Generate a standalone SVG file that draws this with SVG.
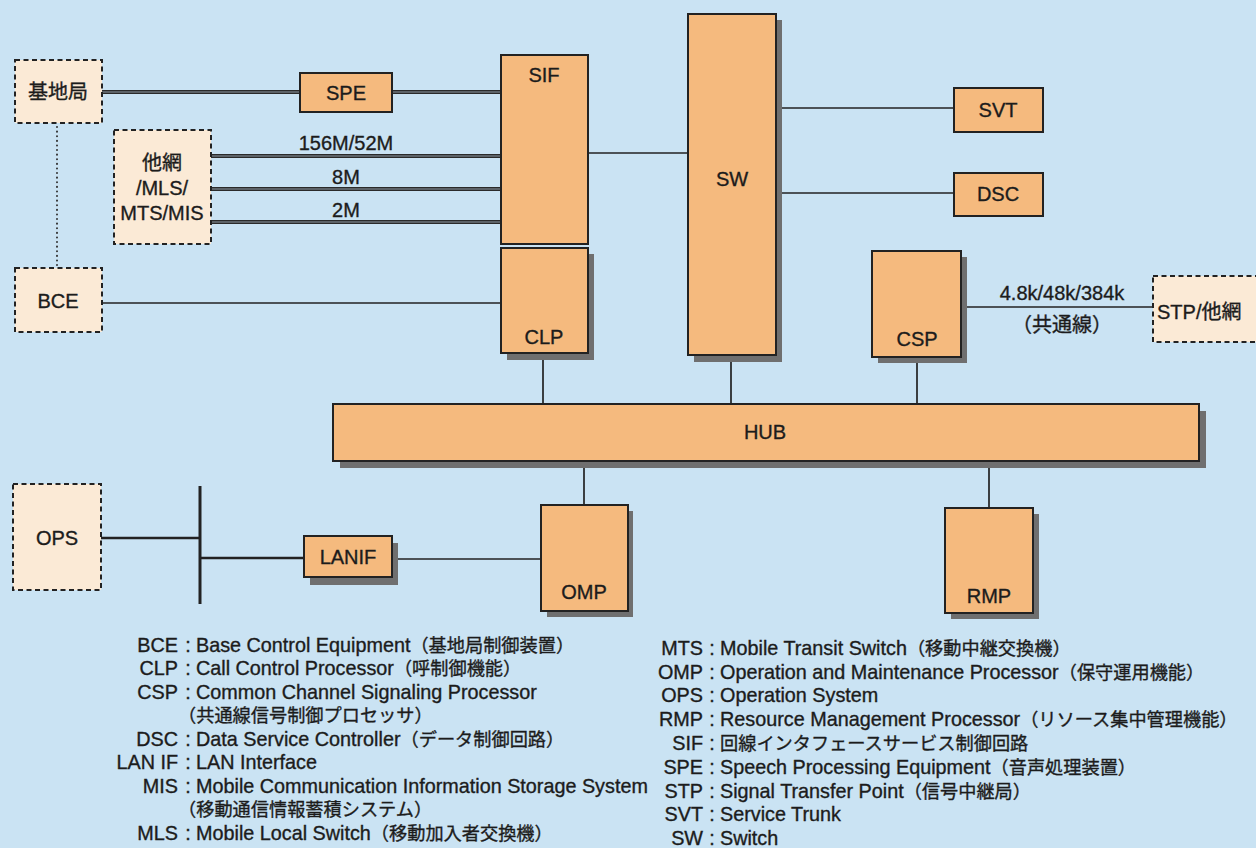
<svg xmlns="http://www.w3.org/2000/svg" width="1256" height="848" viewBox="0 0 1256 848">
<style>
  text { font-family: "Liberation Sans", "Noto Sans CJK JP", sans-serif; fill: #1c1c1c; stroke: #1c1c1c; stroke-width: 0.35px; font-size: 20px; }
  .lg { font-size: 19.8px; }
  .j { font-size: 18.2px; }
  .c { text-anchor: middle; }
  .e { text-anchor: end; }
  .box { fill: #F5BA7E; stroke: #222; stroke-width: 2; }
  .dash { fill: #FBEAD6; stroke: #222; stroke-width: 2; stroke-dasharray: 5 3.5; }
  .sh { fill: #6f6f6f; }
  .ln { stroke: #222; stroke-width: 1.7; fill: none; }
  .thick { stroke: #222; stroke-width: 2.6; fill: none; }
  .dbl { stroke: #2a2a2a; stroke-width: 4.2; fill: none; }
  .dblc { stroke: #8d9aa3; stroke-width: 1.2; fill: none; }
  .dot { stroke: #333; stroke-width: 2; stroke-dasharray: 0.1 4.5; stroke-linecap: round; fill: none; }
</style>
<rect x="0" y="0" width="1256" height="848" fill="#CAE3F3"/>

<g id="connectors">
  <line class="dbl" x1="102" y1="92" x2="300" y2="92"/><line class="dblc" x1="102" y1="92" x2="300" y2="92"/>
  <line class="dbl" x1="392" y1="92" x2="501" y2="92"/><line class="dblc" x1="392" y1="92" x2="501" y2="92"/>
  <line class="dbl" x1="211" y1="156" x2="501" y2="156"/><line class="dblc" x1="211" y1="156" x2="501" y2="156"/>
  <line class="dbl" x1="211" y1="189" x2="501" y2="189"/><line class="dblc" x1="211" y1="189" x2="501" y2="189"/>
  <line class="dbl" x1="211" y1="222" x2="501" y2="222"/><line class="dblc" x1="211" y1="222" x2="501" y2="222"/>
  <line class="dot" x1="57" y1="127" x2="57" y2="266"/>
  <line class="ln" x1="102" y1="303" x2="501" y2="303"/>
  <line class="ln" x1="588" y1="153" x2="688" y2="153"/>
  <line class="ln" x1="776" y1="108" x2="954" y2="108"/>
  <line class="ln" x1="776" y1="193" x2="954" y2="193"/>
  <line class="ln" x1="961" y1="307" x2="1153" y2="307"/>
  <line class="ln" x1="543" y1="360" x2="543" y2="404"/>
  <line class="ln" x1="731" y1="362" x2="731" y2="404"/>
  <line class="ln" x1="917" y1="363" x2="917" y2="404"/>
  <line class="ln" x1="584" y1="461" x2="584" y2="505"/>
  <line class="ln" x1="989" y1="461" x2="989" y2="508"/>
  <line class="thick" x1="101" y1="538" x2="200" y2="538"/>
  <line class="thick" x1="200" y1="486" x2="200" y2="604" style="stroke-width:3"/>
  <line class="thick" x1="200" y1="558" x2="304" y2="558"/>
  <line class="ln" x1="392" y1="559" x2="541" y2="559"/>
  <text class="c" x="346" y="150">156M/52M</text>
  <text class="c" x="346" y="184">8M</text>
  <text class="c" x="346" y="217">2M</text>
  <text class="c" x="1062" y="300">4.8k/48k/384k</text>
  <text class="c" x="1062" y="332">（共通線）</text>
</g>

<g id="kichikyoku">
  <rect class="dash" x="15" y="60" width="87" height="63"/>
  <text class="c" x="58" y="99">基地局</text>
</g>
<g id="SPE">
  <rect class="box" x="300" y="73" width="92" height="39"/>
  <text class="c" x="346" y="100">SPE</text>
</g>
<g id="tamou">
  <rect class="dash" x="114" y="130" width="97" height="114"/>
  <text class="c" x="162" y="170">他網</text>
  <text class="c" x="162" y="195">/MLS/</text>
  <text class="c" x="162" y="220">MTS/MIS</text>
</g>
<g id="BCE">
  <rect class="dash" x="15" y="268" width="87" height="64"/>
  <text class="c" x="58" y="308">BCE</text>
</g>
<g id="SIF">
  <rect class="box" x="501" y="55" width="87" height="189"/>
  <text class="c" x="544" y="82">SIF</text>
</g>
<g id="CLP">
  <rect class="sh" x="507" y="254" width="87" height="106"/>
  <rect class="box" x="501" y="248" width="87" height="105"/>
  <text class="c" x="544" y="344">CLP</text>
</g>
<g id="SW">
  <rect class="sh" x="694" y="20" width="88" height="342"/>
  <rect class="box" x="688" y="14" width="88" height="341"/>
  <text class="c" x="732" y="186">SW</text>
</g>
<g id="SVT">
  <rect class="box" x="954" y="88" width="89" height="44"/>
  <text class="c" x="998" y="117">SVT</text>
</g>
<g id="DSC">
  <rect class="box" x="954" y="173" width="89" height="43"/>
  <text class="c" x="998" y="201">DSC</text>
</g>
<g id="CSP">
  <rect class="sh" x="878" y="257" width="89" height="106"/>
  <rect class="box" x="872" y="251" width="89" height="106"/>
  <text class="c" x="917" y="346">CSP</text>
</g>
<g id="STP">
  <rect class="dash" x="1153" y="276" width="120" height="66"/>
  <text x="1157" y="319">STP/他網</text>
</g>
<g id="HUB">
  <rect class="sh" x="340" y="411" width="866" height="57"/>
  <rect class="box" x="333" y="404" width="866" height="57"/>
  <text class="c" x="765" y="439">HUB</text>
</g>
<g id="OMP">
  <rect class="sh" x="547" y="511" width="86" height="106"/>
  <rect class="box" x="541" y="505" width="87" height="106"/>
  <text class="c" x="584" y="599">OMP</text>
</g>
<g id="RMP">
  <rect class="sh" x="951" y="514" width="88" height="105"/>
  <rect class="box" x="945" y="508" width="88" height="105"/>
  <text class="c" x="989" y="603">RMP</text>
</g>
<g id="LANIF">
  <rect class="sh" x="310" y="543" width="88" height="42"/>
  <rect class="box" x="304" y="536" width="88" height="41"/>
  <text class="c" x="348" y="564">LANIF</text>
</g>
<g id="OPS">
  <rect class="dash" x="13" y="484" width="88" height="106"/>
  <text class="c" x="57" y="545">OPS</text>
</g>

<g id="legend-left">
  <text class="lg e" x="178" y="652">BCE</text><text class="lg c" x="188" y="652">:</text><text class="lg" x="196" y="652">Base Control Equipment<tspan class="j">（基地局制御装置）</tspan></text>
  <text class="lg e" x="178" y="675">CLP</text><text class="lg c" x="188" y="675">:</text><text class="lg" x="196" y="675">Call Control Processor<tspan class="j">（呼制御機能）</tspan></text>
  <text class="lg e" x="178" y="699">CSP</text><text class="lg c" x="188" y="699">:</text><text class="lg" x="196" y="699">Common Channel Signaling Processor</text>
  <text class="j" x="178" y="722">（共通線信号制御プロセッサ）</text>
  <text class="lg e" x="178" y="746">DSC</text><text class="lg c" x="188" y="746">:</text><text class="lg" x="196" y="746">Data Service Controller<tspan class="j">（データ制御回路）</tspan></text>
  <text class="lg e" x="178" y="769">LAN IF</text><text class="lg c" x="188" y="769">:</text><text class="lg" x="196" y="769">LAN Interface</text>
  <text class="lg e" x="178" y="793">MIS</text><text class="lg c" x="188" y="793">:</text><text class="lg" x="196" y="793">Mobile Communication Information Storage System</text>
  <text class="j" x="178" y="816">（移動通信情報蓄積システム）</text>
  <text class="lg e" x="178" y="840">MLS</text><text class="lg c" x="188" y="840">:</text><text class="lg" x="196" y="840">Mobile Local Switch<tspan class="j">（移動加入者交換機）</tspan></text>
</g>
<g id="legend-right">
  <text class="lg e" x="703" y="655">MTS</text><text class="lg c" x="712" y="655">:</text><text class="lg" x="720" y="655">Mobile Transit Switch<tspan class="j">（移動中継交換機）</tspan></text>
  <text class="lg e" x="703" y="679">OMP</text><text class="lg c" x="712" y="679">:</text><text class="lg" x="720" y="679">Operation and Maintenance Processor<tspan class="j">（保守運用機能）</tspan></text>
  <text class="lg e" x="703" y="702">OPS</text><text class="lg c" x="712" y="702">:</text><text class="lg" x="720" y="702">Operation System</text>
  <text class="lg e" x="703" y="726">RMP</text><text class="lg c" x="712" y="726">:</text><text class="lg" x="720" y="726">Resource Management Processor<tspan class="j">（リソース集中管理機能）</tspan></text>
  <text class="lg e" x="703" y="750">SIF</text><text class="lg c" x="712" y="750">:</text><text class="j" x="720" y="750">回線インタフェースサービス制御回路</text>
  <text class="lg e" x="703" y="774">SPE</text><text class="lg c" x="712" y="774">:</text><text class="lg" x="720" y="774">Speech Processing Equipment<tspan class="j">（音声処理装置）</tspan></text>
  <text class="lg e" x="703" y="798">STP</text><text class="lg c" x="712" y="798">:</text><text class="lg" x="720" y="798">Signal Transfer Point<tspan class="j">（信号中継局）</tspan></text>
  <text class="lg e" x="703" y="821">SVT</text><text class="lg c" x="712" y="821">:</text><text class="lg" x="720" y="821">Service Trunk</text>
  <text class="lg e" x="703" y="845">SW</text><text class="lg c" x="712" y="845">:</text><text class="lg" x="720" y="845">Switch</text>
</g>
</svg>
